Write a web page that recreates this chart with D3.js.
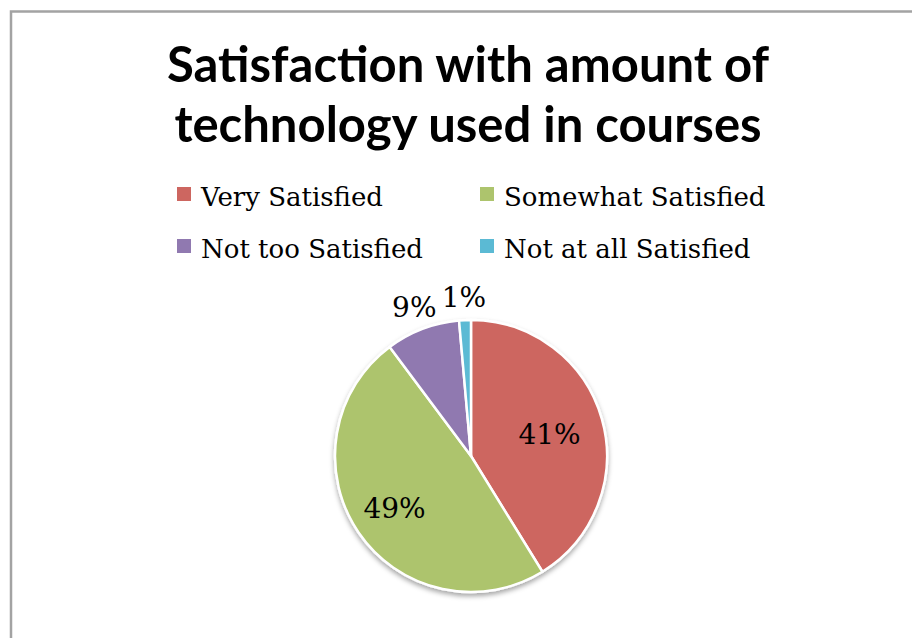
<!DOCTYPE html>
<html>
<head>
<meta charset="utf-8">
<script src="https://cdn.jsdelivr.net/npm/d3@7"></script>
<style>
  body { margin: 0; background: #fff; }
</style>
</head>
<body>
<div id="chart"></div>
<script>
"use strict";

let categories = ['Very Satisfied', 'Somewhat Satisfied', 'Not too Satisfied', 'Not at all Satisfied'];
let values = [41.2, 48.6, 8.8, 1.4];
let colors = ['#cd6660', '#adc46d', '#9079b0', '#5bbad4'];
let titleLines = ['Satisfaction with amount of', 'technology used in courses'];

let width = 912;
let height = 638;
let cx = 471;
let cy = 456;
let radius = 136;

let svg = d3.select('#chart')
  .append('svg')
  .attr('width', width)
  .attr('height', height);

// chart frame
svg.append('rect')
  .attr('x', 11)
  .attr('y', 11.5)
  .attr('width', width + 20)
  .attr('height', height + 20)
  .attr('fill', '#fff')
  .attr('stroke', '#a3a3a3')
  .attr('stroke-width', 2.5);

let defs = svg.append('defs');
let shadow = defs.append('filter')
  .attr('id', 'shadow')
  .attr('x', '-20%').attr('y', '-20%')
  .attr('width', '140%').attr('height', '140%');
shadow.append('feDropShadow')
  .attr('dx', 0).attr('dy', 3)
  .attr('stdDeviation', 2.5)
  .attr('flood-color', '#000')
  .attr('flood-opacity', 0.35);

svg.append('g')
  .selectAll('text')
  .data(titleLines)
  .join('text')
  .attr('x', 468)
  .attr('y', (d, i) => 82 + i * 60)
  .attr('text-anchor', 'middle')
  .attr('font-family', 'Lato, sans-serif')
  .attr('font-weight', 'bold')
  .attr('font-size', 49)
  .attr('fill', '#000')
  .text(d => d);

// legend
let legendPos = [[177, 187], [480, 187], [177, 239], [480, 239]];
let legend = svg.append('g')
  .selectAll('g')
  .data(categories)
  .join('g')
  .attr('transform', (d, i) => 'translate(' + legendPos[i][0] + ', ' + legendPos[i][1] + ')');

legend.append('rect')
  .attr('width', 14)
  .attr('height', 14)
  .attr('fill', (d, i) => colors[i]);

legend.append('text')
  .attr('x', 24)
  .attr('y', 19)
  .attr('font-family', '"DejaVu Serif", serif')
  .attr('font-size', 26)
  .attr('fill', '#000')
  .text(d => d);

// pie
let pie = d3.pie().sort(null).value(d => d);
let arcs = pie(values);
let arc = d3.arc().innerRadius(0).outerRadius(radius);

let pieG = svg.append('g')
  .attr('transform', 'translate(' + cx + ', ' + cy + ')');

pieG.append('g')
  .attr('filter', 'url(#shadow)')
  .selectAll('path')
  .data(arcs)
  .join('path')
  .attr('d', arc)
  .attr('fill', (d, i) => colors[i])
  .attr('stroke', '#fff')
  .attr('stroke-width', 2.5)
  .attr('stroke-linejoin', 'round');

let total = d3.sum(values);
let labelRadii = [0.6, 0.68, 1.17, 1.17];

pieG.append('g')
  .selectAll('text')
  .data(arcs)
  .join('text')
  .attr('transform', (d, i) => {
    let r = radius * labelRadii[i];
    return 'translate(' + d3.arc().innerRadius(r).outerRadius(r).centroid(d) + ')';
  })
  .attr('text-anchor', 'middle')
  .attr('dy', '0.35em')
  .attr('font-family', '"DejaVu Serif", serif')
  .attr('font-size', 28)
  .attr('fill', '#000')
  .text(d => Math.round(d.value / total * 100) + '%');
</script>
</body>
</html>
